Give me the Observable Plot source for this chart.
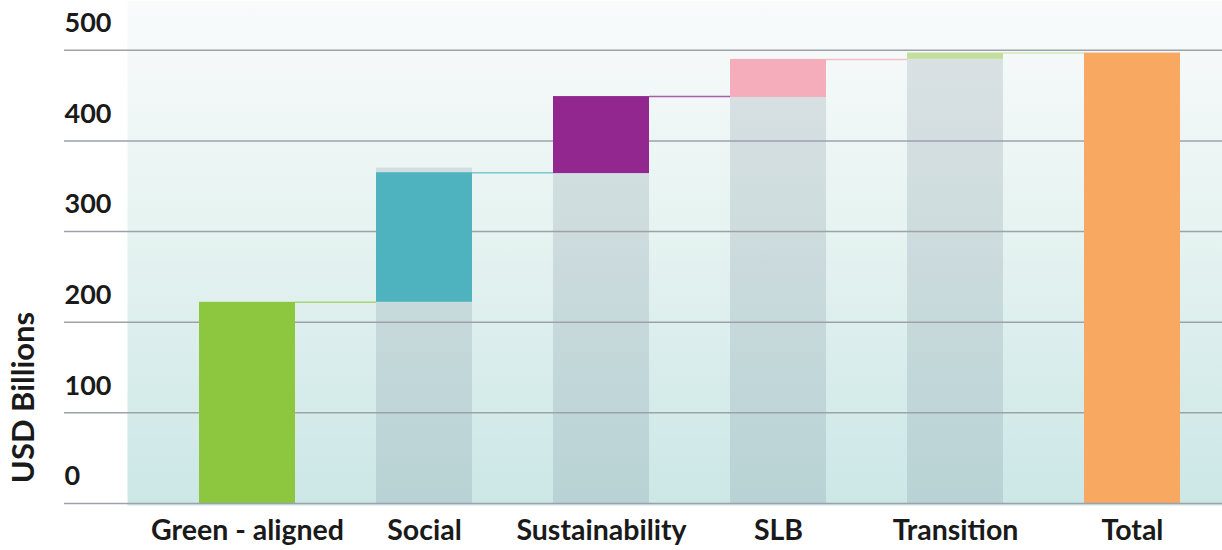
<!DOCTYPE html>
<html>
<head>
<meta charset="utf-8">
<script src="https://cdn.jsdelivr.net/npm/d3@7"></script>
<script src="https://cdn.jsdelivr.net/npm/@observablehq/plot@0.6"></script>
<style>
  html, body { margin: 0; padding: 0; background: #ffffff; }
  #chart svg { display: block; }
</style>
</head>
<body>
<div id="chart"></div>
<script>
// ---- data ----
const categories = ["Green - aligned", "Social", "Sustainability", "SLB", "Transition", "Total"];
const barBase   = [0, 222, 364, 448, 490, 0];
const barTop    = [222, 365, 449, 490, 497, 497];
const shadowTop = [null, 370, 364, 448, 490, null];
const barColors = ["#8dc63f", "#4fb3bf", "#92278f", "#f6adbb", "#c4df9c", "#f9a862"];
const linkColors = ["#a9d672", "#7cc7cd", "#a85eaa", "#f8bfca", "#d3e8b6"];
const yTicks = [0, 100, 200, 300, 400, 500];
const yTitle = "USD Billions";

const bars = categories.map((c, i) => ({cat: c, y1: barBase[i], y2: barTop[i], color: barColors[i]}));
const shadows = categories.map((c, i) => ({cat: c, top: shadowTop[i]})).filter(d => d.top != null);
const links = linkColors.map((col, i) => ({from: categories[i], to: categories[i + 1], y: barTop[i], color: col}));

const font = "Lato, 'Noto Sans', sans-serif";

const gradientDefs = () => {
  const ns = "http://www.w3.org/2000/svg";
  const defs = document.createElementNS(ns, "defs");
  const lg = document.createElementNS(ns, "linearGradient");
  lg.setAttribute("id", "bggrad");
  lg.setAttribute("x1", "0"); lg.setAttribute("y1", "0");
  lg.setAttribute("x2", "0"); lg.setAttribute("y2", "1");
  [["0%", "#f9fbfb"], ["45%", "#e6f3f1"], ["100%", "#cbe7e6"]].forEach(([o, c]) => {
    const s = document.createElementNS(ns, "stop");
    s.setAttribute("offset", o); s.setAttribute("stop-color", c);
    lg.appendChild(s);
  });
  defs.appendChild(lg);
  return defs;
};

const chart = Plot.plot({
  width: 1222,
  height: 550,
  marginLeft: 127,
  marginRight: 0,
  marginTop: 0,
  marginBottom: 47,
  style: {fontFamily: font, background: "#ffffff", color: "#1a1a1a"},
  x: {domain: categories, range: [156, 1222], paddingInner: 0.46, paddingOuter: 0.23, axis: null},
  y: {domain: [0, 555], axis: null},
  marks: [
    gradientDefs,
    Plot.frame({fill: "url(#bggrad)", stroke: "none", insetBottom: -2}),
    Plot.barY(shadows, {x: "cat", y1: 0, y2: "top", fill: "#6f8290", fillOpacity: 0.2}),
    Plot.ruleY(yTicks.filter(d => d > 0), {y: d => d, stroke: "#9ea1aa", strokeWidth: 1.5, insetLeft: -63}),
    Plot.barY(bars, {x: "cat", y1: "y1", y2: "y2", fill: "color"}),
    Plot.ruleY(links, {y: "y", x1: "from", x2: "to", stroke: "color", strokeWidth: 1.5, insetLeft: 96, insetRight: 96}),
    Plot.ruleY([0], {stroke: "#9ea1aa", strokeWidth: 1.5, insetLeft: -63}),
    Plot.text(yTicks, {y: d => d, text: d => String(d), frameAnchor: "left", textAnchor: "start", dx: -63, dy: -27,
      fontSize: 27, fontWeight: "bold", fill: "#1a1a1a"}),
    Plot.text([yTitle], {y: 117, text: d => d, frameAnchor: "left", dx: -103, rotate: -90, textAnchor: "middle",
      fontSize: 31, fontWeight: "bold", fill: "#1a1a1a"}),
    Plot.axisX({tickSize: 0, tickPadding: 16, fontSize: 28.5, fontWeight: "bold", label: null, fill: "#1a1a1a"})
  ]
});
document.getElementById("chart").appendChild(chart);
</script>
</body>
</html>
